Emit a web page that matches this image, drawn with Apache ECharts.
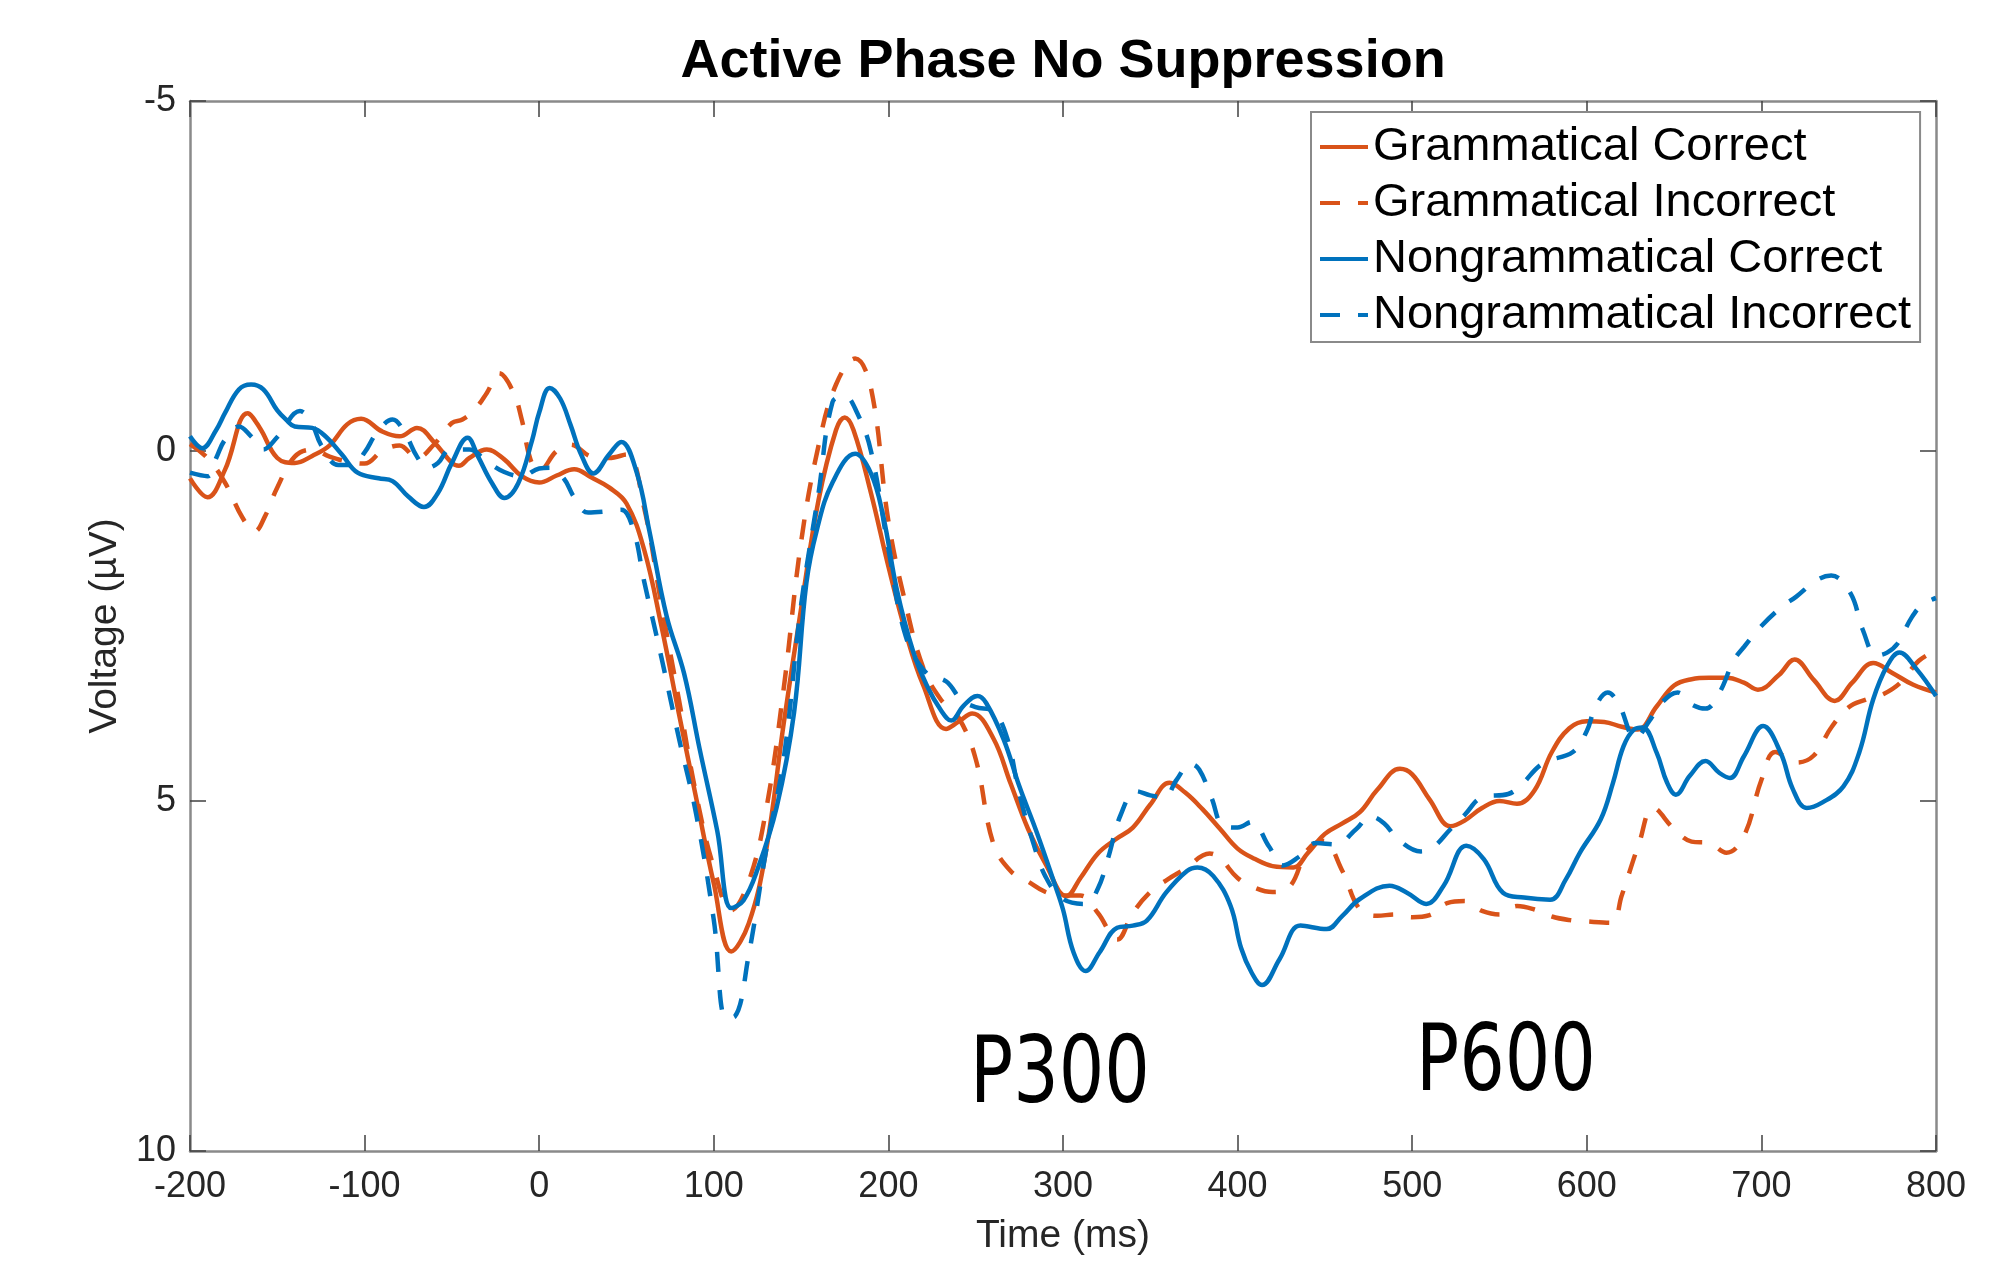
<!DOCTYPE html>
<html><head><meta charset="utf-8">
<script src="https://cdn.jsdelivr.net/npm/echarts@6/dist/echarts.min.js"></script>
<style>html,body{margin:0;padding:0;background:#fff}#c{width:2009px;height:1261px}</style>
</head><body><div id="c"></div>
<script>
const chartTitle = 'Active Phase No Suppression';
const seriesNames = ['Grammatical Correct','Grammatical Incorrect','Nongrammatical Correct','Nongrammatical Incorrect'];
const annotations = ['P300','P600'];

// Grammatical Correct (orange solid)
const gcTime = [-200,-190,-180,-167,-160,-150,-140,-130,-120,-110,-102,-90,-80,-70,-60,-50,-46,-40,-30,-20,-10,0,10,20,30,40,50,60,70,80,90,100,110,120,130,140,150,160,170,175,180,190,200,210,220,233,240,248,260,270,280,290,302,310,320,330,340,350,361,370,380,390,400,410,420,432,440,450,460,470,480,493,500,510,522,530,540,550,560,570,580,590,600,610,620,629,640,650,660,670,680,690,698,710,719,730,742,752,764,775,787,800];
const gcVolt = [0.39,0.66,0.27,-0.54,-0.33,0.10,0.17,0.07,-0.08,-0.38,-0.46,-0.28,-0.21,-0.33,-0.12,0.17,0.21,0.10,-0.02,0.12,0.36,0.45,0.35,0.26,0.38,0.52,0.75,1.40,2.50,3.75,4.97,6.18,7.15,6.75,5.70,3.90,2.25,0.70,-0.30,-0.48,-0.30,0.60,1.65,2.60,3.35,3.97,3.87,3.75,4.10,4.75,5.40,5.90,6.36,6.10,5.75,5.55,5.38,5.05,4.74,4.88,5.12,5.40,5.68,5.83,5.93,5.95,5.75,5.47,5.32,5.16,4.84,4.54,4.62,4.98,5.36,5.28,5.10,5.00,5.04,4.85,4.30,3.96,3.86,3.87,3.94,3.98,3.65,3.35,3.26,3.24,3.24,3.31,3.41,3.20,2.98,3.27,3.57,3.31,3.03,3.17,3.34,3.45];

// Grammatical Incorrect (orange dashed)
const giTime = [-200,-190,-180,-170,-163,-157,-150,-140,-130,-120,-110,-100,-90,-80,-70,-60,-50,-44,-37,-30,-23,-15,-10,-5,0,10,18,30,40,50,60,70,80,90,100,110,120,130,140,150,160,170,181,190,200,210,220,230,240,250,260,270,280,290,300,310,320,331,340,350,360,370,384,390,400,410,420,430,440,449,460,470,480,490,500,510,520,530,540,550,560,570,580,590,600,614,620,630,638,650,660,670,680,690,700,708,720,730,740,750,760,770,780,790,800];
const giVolt = [-0.10,0.10,0.45,0.95,1.15,0.93,0.52,0.08,-0.02,0.08,0.15,0.18,0.00,-0.08,0.10,-0.10,-0.40,-0.45,-0.59,-0.83,-1.11,-0.85,-0.45,0.12,0.28,0.00,-0.09,0.08,0.10,0.05,0.80,2.20,3.55,4.92,5.95,6.56,6.15,5.12,3.40,1.30,-0.08,-0.95,-1.32,-0.90,1.00,2.20,3.10,3.55,3.80,4.40,5.60,6.00,6.15,6.30,6.35,6.35,6.60,6.98,6.60,6.30,6.12,5.97,5.75,5.82,6.10,6.24,6.30,6.22,5.70,5.57,6.00,6.55,6.64,6.62,6.66,6.63,6.46,6.43,6.57,6.62,6.50,6.55,6.65,6.70,6.72,6.74,6.35,5.60,5.10,5.40,5.58,5.60,5.74,5.50,4.70,4.30,4.45,4.35,3.95,3.66,3.55,3.47,3.30,3.00,2.85];

// Nongrammatical Correct (blue solid)
const ncTime = [-200,-193,-185,-180,-172,-165,-158,-150,-145,-140,-130,-122,-113,-104,-92,-84,-75,-66,-58,-50,-41,-35,-27,-20,-12,-4,0,6,12,18,24,31,40,47,56,63,73,83,92,102,110,117,125,136,146,153,159,168,181,190,197,205,214,222,230,236,243,251,256,266,275,285,295,300,306,313,321,331,340,348,359,371,377,386,396,402,408,414,424,436,451,460,470,487,497,508,518,531,541,552,564,579,588,596,608,615,621,627,632,640,646,651,659,668,676,682,690,701,711,718,726,735,747,756,764,772,779,789,800];
const ncVolt = [-0.21,-0.04,-0.30,-0.54,-0.88,-0.95,-0.88,-0.58,-0.45,-0.35,-0.33,-0.20,0.05,0.31,0.39,0.43,0.65,0.80,0.60,0.17,-0.19,0.08,0.46,0.67,0.46,-0.16,-0.55,-0.90,-0.75,-0.37,0.05,0.32,0.05,-0.13,0.32,1.13,2.36,3.18,4.27,5.43,6.53,6.42,5.98,5.09,3.73,1.89,1.13,0.45,0.04,0.32,0.93,2.00,2.85,3.35,3.70,3.85,3.64,3.50,3.60,4.12,4.79,5.45,6.17,6.55,7.16,7.43,7.16,6.81,6.78,6.71,6.31,6.00,5.95,6.07,6.50,7.10,7.45,7.63,7.26,6.78,6.83,6.64,6.40,6.21,6.31,6.47,6.21,5.64,5.83,6.31,6.38,6.41,6.12,5.74,5.26,4.74,4.22,3.98,3.95,4.31,4.74,4.91,4.64,4.43,4.60,4.67,4.36,3.93,4.31,4.83,5.10,5.02,4.79,4.31,3.55,3.07,2.88,3.12,3.50];

// Nongrammatical Incorrect (blue dashed)
const niTime = [-200,-190,-185,-180,-172,-165,-158,-150,-137,-130,-125,-115,-107,-100,-93,-84,-77,-70,-64,-58,-51,-40,-30,-20,-10,0,6,14,20,28,40,47,54,60,70,80,90,100,107,112,120,130,140,150,160,168,175,182,190,200,210,222,233,242,250,260,268,275,283,290,300,313,320,326,333,342,350,358,365,373,378,385,392,400,408,418,426,435,445,456,468,476,484,492,505,512,522,530,540,555,562,575,592,600,605,612,618,628,636,642,652,660,668,676,684,690,700,712,720,732,740,751,758,766,772,778,786,792,800];
const niVolt = [0.31,0.36,0.10,-0.16,-0.35,-0.21,-0.02,-0.20,-0.57,-0.38,-0.09,0.20,0.20,0.02,-0.26,-0.45,-0.26,0.08,0.24,0.17,-0.02,-0.02,0.15,0.30,0.36,0.25,0.24,0.39,0.66,0.88,0.86,0.84,1.13,1.85,2.95,4.10,5.20,6.70,8.10,8.08,7.20,5.70,4.40,2.20,0.60,-0.70,-0.78,-0.55,0.00,1.40,2.65,3.18,3.29,3.56,3.66,3.72,4.10,4.90,5.60,6.08,6.40,6.47,6.25,5.80,5.20,4.86,4.92,4.95,4.70,4.47,4.55,4.95,5.36,5.38,5.30,5.65,5.92,5.80,5.60,5.62,5.40,5.22,5.32,5.55,5.72,5.66,5.40,5.20,4.95,4.90,4.78,4.46,4.30,4.00,3.65,3.45,3.60,4.10,3.85,3.62,3.45,3.62,3.68,3.45,3.00,2.80,2.50,2.22,2.08,1.84,1.78,2.03,2.55,2.92,2.88,2.75,2.38,2.20,2.10];

const xMin = -200, xMax = 800, xStep = 100;
const yMin = -5, yMax = 10, yStep = 5;

const FONT = '"Liberation Sans", Arial, Helvetica, sans-serif';
const ORANGE = '#D95319', BLUE = '#0072BD';
const AXIS_GRAY = '#8a8a8a', TICK = '#404040', LABEL = '#262626';

function pairs(t, v) { return t.map((x, i) => [x, v[i]]); }

const chart = echarts.init(document.getElementById('c'), null, {renderer: 'canvas'});

function xAx(pos, main) {
  return {
    type: 'value', min: xMin, max: xMax, interval: xStep, position: pos,
    name: main ? 'Time (ms)' : '', nameLocation: 'middle', nameGap: 66,
    nameTextStyle: {fontSize: 39, color: LABEL, fontFamily: FONT},
    axisLine: {show: true, onZero: false, lineStyle: {color: AXIS_GRAY, width: 2.5}},
    axisTick: {show: true, inside: true, length: 16, lineStyle: {color: TICK, width: 1.5}},
    axisLabel: {show: main, fontSize: 36, color: LABEL, margin: 18, fontFamily: FONT},
    splitLine: {show: false}
  };
}
function yAx(pos, main) {
  return {
    type: 'value', min: yMin, max: yMax, interval: yStep, inverse: true, position: pos,
    name: main ? 'Voltage (µV)' : '', nameLocation: 'middle', nameGap: 58,
    nameTextStyle: {fontSize: 39, color: LABEL, fontFamily: FONT},
    axisLine: {show: true, onZero: false, lineStyle: {color: AXIS_GRAY, width: 2.5}},
    axisTick: {show: true, inside: true, length: 16, lineStyle: {color: TICK, width: 1.5}},
    axisLabel: {show: main, fontSize: 36, color: LABEL, margin: 14, fontFamily: FONT},
    splitLine: {show: false}
  };
}

const styles = [
  {color: ORANGE, type: 'solid'},
  {color: ORANGE, type: [20, 18]},
  {color: BLUE, type: 'solid'},
  {color: BLUE, type: [20, 18]}
];
const dataSets = [pairs(gcTime, gcVolt), pairs(giTime, giVolt), pairs(ncTime, ncVolt), pairs(niTime, niVolt)];

const annFont = '92px "Liberation Sans Narrow", "DejaVu Sans Condensed", sans-serif';

const option = {
  backgroundColor: '#fff',
  animation: false,
  title: {
    text: chartTitle, left: 1063, top: 35, padding: 0, textAlign: 'center',
    textStyle: {fontSize: 54, fontWeight: 'bold', color: '#000', fontFamily: FONT}
  },
  grid: {left: 190, top: 101, width: 1746, height: 1051, containLabel: false},
  xAxis: [xAx('bottom', true), xAx('top', false)],
  yAxis: [yAx('left', true), yAx('right', false)],
  legend: {
    orient: 'vertical', left: 1311, top: 112,
    itemWidth: 48, itemHeight: 20, itemGap: 6,
    padding: [10, 9, 2, 7],
    borderColor: AXIS_GRAY, borderWidth: 2, backgroundColor: '#fff',
    itemStyle: {opacity: 0, borderWidth: 0},
    lineStyle: {width: 4},
    textStyle: {fontSize: 47, lineHeight: 50, color: '#000', fontFamily: FONT},
    data: seriesNames
  },
  series: seriesNames.map((n, i) => ({
    name: n, type: 'line', xAxisIndex: 0, yAxisIndex: 0,
    data: dataSets[i], symbol: 'none', showSymbol: false, smooth: 0.4,
    lineStyle: {color: styles[i].color, width: 4.5, type: styles[i].type},
    itemStyle: {color: styles[i].color},
    z: 2 + i
  })),
  graphic: [
    {type: 'text', x: 970, y: 1078, scaleX: 0.865, style: {text: annotations[0], fill: '#000', font: annFont, verticalAlign: 'middle', align: 'left'}},
    {type: 'text', x: 1416, y: 1066, scaleX: 0.865, style: {text: annotations[1], fill: '#000', font: annFont, verticalAlign: 'middle', align: 'left'}}
  ]
};
chart.setOption(option);
</script></body></html>
